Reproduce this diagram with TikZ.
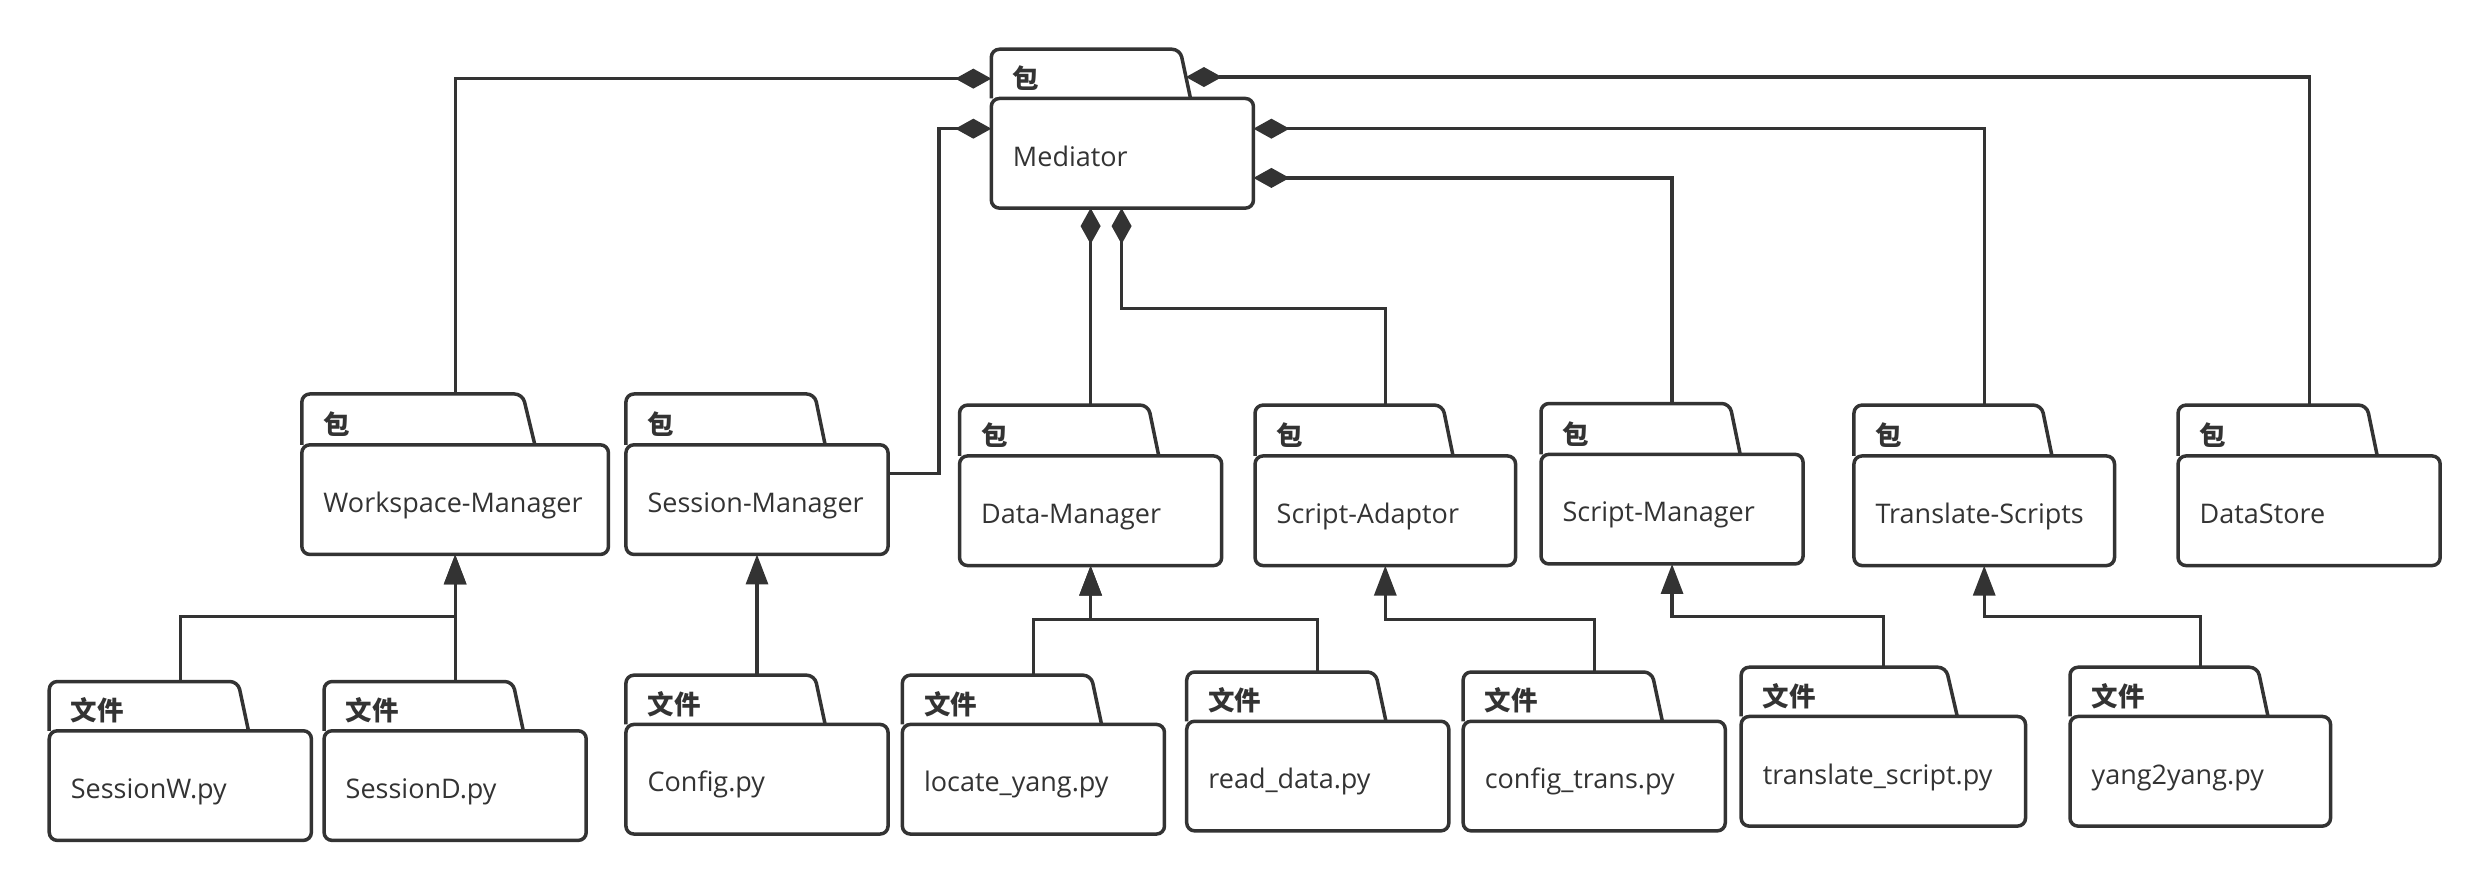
\documentclass[tikz,border=0pt]{standalone}
\usepackage{fontspec}
\setmainfont{Open Sans}
\newfontfamily\cjk{Noto Sans CJK SC}
\usetikzlibrary{arrows.meta,fit,calc}
\definecolor{ink}{HTML}{333333}
\tikzset{
  pkgbody/.style={draw=ink, line width=3.5pt, rounded corners=8pt, inner sep=0pt, outer sep=0pt},
  pkgline/.style={draw=ink, line width=3.5pt, rounded corners=8pt, line join=round},
  pkglabel/.style={anchor=base west, inner sep=0pt, font=\cjk\bfseries\fontsize{26.5}{30}\selectfont, text=ink},
  pkgtext/.style={anchor=base west, inner sep=0pt, font=\fontsize{27}{31}\selectfont, text=ink},
  comp/.style={draw=ink, line width=3.2pt, -{Diamond[length=36pt,width=20pt]}},
  inh/.style={draw=ink, line width=3.2pt, -{Triangle[length=30pt,width=22pt]}},
}
% #1 name, #2 left, #3 tab top, #4 body top, #5 right, #6 bottom, #7 label, #8 text
\newcommand\pkgbox[8]{%
  \node[pkgbody, fit={(#2,#4)(#5,#6)}] (#1) {};
  \draw[pkgline] (#1.north west) -- (#2,#3) -- ({#2+0.72*(#5-#2)},#3) -- ({#2+0.76*(#5-#2)},#4);
  \coordinate (#1-top) at ({(#2+#5)/2},#3);
  \node[pkglabel] (#1-l) at ({#2+13.5},{#4-6.5}) {#7};
  \node[pkgtext] (#1-t) at ({#2+13.5},{#4+42.5}) {#8};
}
\begin{document}
\begin{tikzpicture}[x=1.5886pt,y=-1.5886pt]
\useasboundingbox (0,0) rectangle (1568,561);
% Mediator
\pkgbox{med}{624}{31}{62}{789}{131}{包}{Mediator}
\coordinate (medL1) at (624,49.5);
\coordinate (medL2) at (624,81);
\coordinate (medR1) at (746.5,48.5);
\coordinate (medR2) at (789,81);
\coordinate (medR3) at (789,112);
\coordinate (medB2) at (706,131);
% level 2 packages
\pkgbox{wm}{190}{248}{280}{383}{349}{包}{Workspace-Manager}
\pkgbox{sm}{394}{248}{280}{559}{349}{包}{Session-Manager}
\pkgbox{dm}{604}{255}{287}{769}{356}{包}{Data-Manager}
\pkgbox{sa}{790}{255}{287}{954}{356}{包}{Script-Adaptor}
\pkgbox{smg}{970}{254}{286}{1135}{355}{包}{Script-Manager}
\pkgbox{ts}{1167}{255}{287}{1331}{356}{包}{Translate-Scripts}
\pkgbox{ds}{1371}{255}{287}{1536}{356}{包}{DataStore}
\coordinate (smR) at (559,298);
% files
\pkgbox{sw}{31}{429}{460}{196}{529}{文件}{SessionW.py}
\pkgbox{sd}{204}{429}{460}{369}{529}{文件}{SessionD.py}
\pkgbox{cfg}{394}{425}{456}{559}{525}{文件}{Config.py}
\pkgbox{ly}{568}{425}{456}{733}{525}{文件}{locate\_yang.py}
\pkgbox{rd}{747}{423}{454}{912}{523}{文件}{read\_data.py}
\pkgbox{ct}{921}{423}{454}{1086}{523}{文件}{config\_trans.py}
\pkgbox{tsc}{1096}{420}{451}{1275}{520}{文件}{translate\_script.py}
\pkgbox{yy}{1303}{420}{451}{1467}{520}{文件}{yang2yang.py}
% composition connectors
\draw[comp] (wm-top) |- (medL1);
\draw[comp] (smR) -- ++(32,0) |- (medL2);
\draw[comp] (dm-top) -- (dm-top |- med.south);
\draw[comp] (sa-top) -- ++(0,-61) -| (medB2);
\draw[comp] (smg-top) |- (medR3);
\draw[comp] (ts-top) |- (medR2);
\draw[comp] (ds-top) |- (medR1);
% inheritance connectors
\draw[inh] (sw-top) -- ++(0,-41) -| (wm.south);
\draw[inh] (sd-top) -- (wm.south);
\draw[inh] (cfg-top) -- (sm.south);
\draw[inh] (ly-top) -- ++(0,-35) -| (dm.south);
\draw[inh] (rd-top) -- ++(0,-33) -| (dm.south);
\draw[inh] (ct-top) -- ++(0,-33) -| (sa.south);
\draw[inh] (tsc-top) -- ++(0,-32) -| (smg.south);
\draw[inh] (yy-top) -- ++(0,-32) -| (ts.south);
\end{tikzpicture}
\end{document}
